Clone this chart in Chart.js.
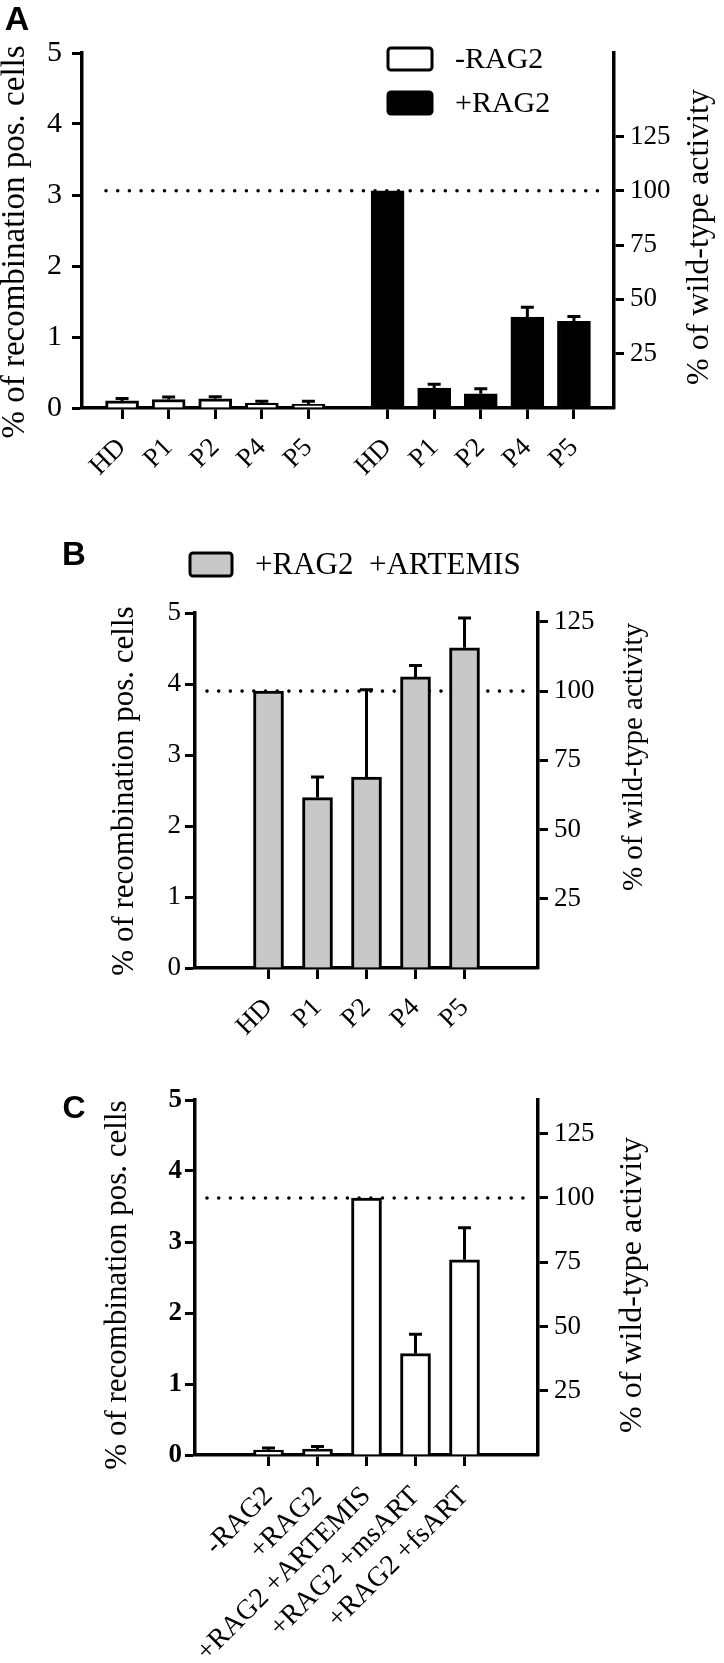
<!DOCTYPE html>
<html>
<head>
<meta charset="utf-8">
<title>Recombination activity</title>
<script src="https://cdn.jsdelivr.net/npm/chart.js@4.4.1/dist/chart.umd.min.js"></script>
<style>
  body { margin: 0; background: #fff; }
  #wrap { position: relative; width: 724px; height: 1663px; }
  canvas { position: absolute; left: 0; }
</style>
</head>
<body>
<div id="wrap">
  <canvas id="chartA" width="724" height="500" style="top:0px"></canvas>
  <canvas id="chartB" width="724" height="540" style="top:520px"></canvas>
  <canvas id="chartC" width="724" height="603" style="top:1060px"></canvas>
</div>
<script>
// Panel A: patients, with and without RAG2
const aGroups = ['HD', 'P1', 'P2', 'P4', 'P5'];
const minusRag2 = [0.10, 0.12, 0.13, 0.07, 0.05];
const minusRag2Err = [0.035, 0.035, 0.03, 0.025, 0.045];
const plusRag2 = [3.06, 0.28, 0.20, 1.28, 1.22];
const plusRag2Err = [0, 0.055, 0.07, 0.14, 0.07];

// Panel B: +RAG2 +ARTEMIS
const bGroups = ['HD', 'P1', 'P2', 'P4', 'P5'];
const artemis = [3.90, 2.40, 2.69, 4.10, 4.51];
const artemisErr = [0, 0.29, 1.23, 0.16, 0.42];

// Panel C: constructs
const cGroups = ['-RAG2', '+RAG2', '+RAG2 +ARTEMIS', '+RAG2 +msART', '+RAG2 +fsART'];
const cValues = [0.07, 0.085, 3.62, 1.43, 2.75];
const cErr = [0.03, 0.035, 0, 0.27, 0.45];

// axis ticks
const yMax = 5;
const wtTicks = [25, 50, 75, 100, 125];
const leftTitle = '% of recombination pos. cells';
const rightTitle = '% of wild-type activity';

Chart.defaults.color = '#000';
Chart.defaults.font.family = "'Liberation Serif', 'Times New Roman', serif";

const SERIF = "'Liberation Serif', 'Times New Roman', serif";
const SANS = "'Liberation Sans', Arial, sans-serif";

// bars sit at index positions on a linear x axis (second group shifted by a gap)
function toPoints(vals, shift) {
  return vals.map((v, i) => ({ x: i + shift, y: v }));
}

// dotted 100% line, error bars, titles, letters and legend
function decor(cfg) {
  return {
    id: 'decor',
    beforeDatasetsDraw(chart) {
      const { ctx, chartArea: a } = chart;
      const y = chart.scales.wt.getPixelForValue(100);
      ctx.save();
      ctx.strokeStyle = '#000';
      ctx.lineWidth = 3.6;
      ctx.lineCap = 'round';
      ctx.setLineDash([0, 11.7]);
      ctx.beginPath();
      ctx.moveTo(a.left + cfg.dotFrom, y);
      ctx.lineTo(a.right - cfg.dotTo, y);
      ctx.stroke();
      ctx.restore();
    },
    afterDatasetsDraw(chart) {
      const ctx = chart.ctx;
      const ys = chart.scales.y;
      ctx.save();
      ctx.strokeStyle = '#000';
      ctx.lineWidth = 3;
      chart.data.datasets.forEach((ds, di) => {
        const meta = chart.getDatasetMeta(di);
        meta.data.forEach((bar, i) => {
          const err = ds.errors[i];
          if (!err) return;
          const yEnd = ys.getPixelForValue(ds.data[i].y + err);
          ctx.beginPath();
          ctx.moveTo(bar.x, bar.y);
          ctx.lineTo(bar.x, yEnd);
          ctx.moveTo(bar.x - 6.5, yEnd);
          ctx.lineTo(bar.x + 6.5, yEnd);
          ctx.stroke();
        });
      });
      ctx.restore();
    },
    afterDraw(chart) {
      const ctx = chart.ctx;
      ctx.save();
      ctx.fillStyle = '#000';
      ctx.textAlign = 'center';
      ctx.textBaseline = 'middle';
      cfg.texts.forEach(t => {
        ctx.save();
        ctx.font = t.font;
        ctx.translate(t.x, t.y - cfg.top);
        if (t.rot) ctx.rotate(t.rot * Math.PI / 180);
        ctx.fillText(t.text, 0, 0);
        ctx.restore();
      });
      if (cfg.legend) {
        const L = cfg.legend;
        ctx.textAlign = 'left';
        ctx.font = L.font;
        chart.data.datasets.forEach((ds, i) => {
          const y = L.y + i * L.rowGap - cfg.top;
          ctx.beginPath();
          ctx.roundRect(L.x, y, L.boxW, L.boxH, 3);
          ctx.fillStyle = ds.backgroundColor;
          ctx.fill();
          ctx.lineWidth = 3;
          ctx.strokeStyle = '#000';
          ctx.stroke();
          ctx.fillStyle = '#000';
          ctx.fillText(ds.label, L.x + L.boxW + L.textGap, y + L.boxH / 2 + 1);
        });
      }
      ctx.restore();
    }
  };
}

function makePanel(id, p) {
  const canvas = document.getElementById(id);
  const W = canvas.width, H = canvas.height;
  const axisLine = { display: true, color: '#000', width: 3.5 };
  const tickGrid = { drawOnChartArea: false, offset: false, tickLength: 10, tickWidth: 3, tickColor: '#000' };
  return new Chart(canvas, {
    type: 'bar',
    data: { datasets: p.datasets },
    options: {
      responsive: false,
      animation: false,
      layout: { padding: { top: p.area.top, left: 0, right: 0, bottom: 0 } },
      plugins: { legend: { display: false }, tooltip: { enabled: false } },
      scales: {
        x: {
          type: 'linear',
          offset: false,
          min: p.xMin,
          max: p.xMax,
          afterBuildTicks: s => { s.ticks = p.positions.map(v => ({ value: v })); },
          afterFit: s => { s.height = H - p.area.bottom; },
          ticks: {
            autoSkip: false, minRotation: 45, maxRotation: 45, padding: p.xPad,
            font: { size: p.xFont },
            callback: (v, i) => p.labels[i]
          },
          grid: Object.assign({}, tickGrid, { tickLength: 11 }),
          border: axisLine
        },
        y: {
          position: 'left',
          min: 0,
          max: yMax,
          afterFit: s => { s.width = p.area.left; },
          ticks: { stepSize: 1, padding: p.leftPad, font: p.leftFont },
          grid: tickGrid,
          border: axisLine
        },
        wt: {
          position: 'right',
          min: 0,
          max: yMax * 100 / p.hd,
          afterBuildTicks: s => { s.ticks = wtTicks.map(v => ({ value: v })); },
          afterFit: s => { s.width = W - p.area.right; },
          ticks: { padding: 6, font: p.rightFont },
          grid: tickGrid,
          border: axisLine
        }
      }
    },
    plugins: [decor(p.decor)]
  });
}

// Panel A
const gapA = 5.7;
makePanel('chartA', {
  area: { left: 82, right: 614, top: 53, bottom: 408 },
  xMin: -0.86, xMax: 4 + gapA + 0.86,
  positions: aGroups.map((g, i) => i).concat(aGroups.map((g, i) => i + gapA)),
  labels: aGroups.concat(aGroups),
  xFont: 27, xPad: 13,
  leftFont: { size: 30 }, leftPad: 10,
  rightFont: { size: 27 },
  hd: plusRag2[0],
  datasets: [
    { label: '-RAG2', data: toPoints(minusRag2, 0), errors: minusRag2Err,
      backgroundColor: '#ffffff', borderColor: '#000', borderWidth: 3,
      barThickness: 33, grouped: false },
    { label: '+RAG2', data: toPoints(plusRag2, gapA), errors: plusRag2Err,
      backgroundColor: '#000000', borderColor: '#000', borderWidth: 3,
      barThickness: 33, grouped: false }
  ],
  decor: {
    top: 0, dotFrom: 24, dotTo: 10,
    texts: [
      { text: 'A', x: 17, y: 21, font: 'bold 34px ' + SANS },
      { text: leftTitle, x: 15, y: 242, rot: -90, font: '33px ' + SERIF },
      { text: rightTitle, x: 700, y: 237, rot: -90, font: '32px ' + SERIF }
    ],
    legend: { x: 388, y: 48, rowGap: 44, boxW: 44, boxH: 22, textGap: 23, font: '30px ' + SERIF }
  }
});

// Panel B
makePanel('chartB', {
  area: { left: 195, right: 538, top: 93, bottom: 448 },
  xMin: -1.5, xMax: 5.5,
  positions: bGroups.map((g, i) => i),
  labels: bGroups,
  xFont: 27, xPad: 13,
  leftFont: { size: 27 }, leftPad: 4,
  rightFont: { size: 27 },
  hd: artemis[0],
  datasets: [
    { label: '+RAG2  +ARTEMIS', data: toPoints(artemis, 0), errors: artemisErr,
      backgroundColor: '#c8c8c8', borderColor: '#000', borderWidth: 3,
      barThickness: 30, grouped: false }
  ],
  decor: {
    top: 520, dotFrom: 12, dotTo: 5,
    texts: [
      { text: 'B', x: 74, y: 556, font: 'bold 33px ' + SANS },
      { text: leftTitle, x: 125, y: 791, rot: -90, font: '31px ' + SERIF },
      { text: rightTitle, x: 634, y: 757, rot: -90, font: '29px ' + SERIF }
    ],
    legend: { x: 190, y: 553, rowGap: 0, boxW: 42, boxH: 23, textGap: 23, font: '31px ' + SERIF }
  }
});

// Panel C
makePanel('chartC', {
  area: { left: 195, right: 538, top: 40, bottom: 395 },
  xMin: -1.5, xMax: 5.5,
  positions: cGroups.map((g, i) => i),
  labels: cGroups,
  xFont: 28, xPad: 14,
  leftFont: { size: 27, weight: 'bold' }, leftPad: 3,
  rightFont: { size: 27 },
  hd: cValues[2],
  datasets: [
    { label: 'constructs', data: toPoints(cValues, 0), errors: cErr,
      backgroundColor: '#ffffff', borderColor: '#000', borderWidth: 3,
      barThickness: 30, grouped: false }
  ],
  decor: {
    top: 1060, dotFrom: 12, dotTo: 5,
    texts: [
      { text: 'C', x: 74, y: 1109, font: 'bold 32px ' + SANS },
      { text: leftTitle, x: 118, y: 1285, rot: -90, font: '31px ' + SERIF },
      { text: rightTitle, x: 633, y: 1285, rot: -90, font: '32px ' + SERIF }
    ]
  }
});
</script>
</body>
</html>
